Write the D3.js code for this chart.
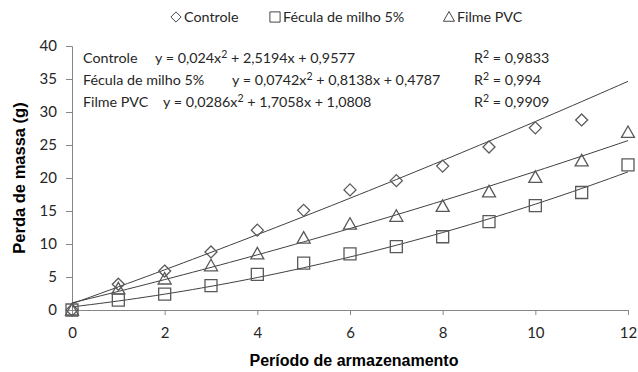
<!DOCTYPE html>
<html>
<head>
<meta charset="utf-8">
<script src="https://cdn.jsdelivr.net/npm/d3@7"></script>
<style>
  body{margin:0;background:#fff}
  svg text{font-family:Lato,"Open Sans",sans-serif}
</style>
</head>
<body>
<svg id="chart" width="638" height="372"></svg>
<script>
// dias de armazenamento
const dias=[0,1,2,3,4,5,6,7,8,9,10,11,12]
const controle=[0,3.9,5.9,8.8,12.1,15.1,18.2,19.6,21.8,24.7,27.6,28.8,null]
const fecula=[0,1.5,2.4,3.7,5.4,7.1,8.5,9.6,11.1,13.4,15.8,17.8,22.0]
const pvc=[0,3.2,4.7,6.7,8.5,10.9,13.0,14.2,15.7,17.9,20.1,22.6,26.9]
// coeficientes das linhas de tendencia (a x2 + b x + c)
const coefControle=[0.024,2.5194,0.9577]
const coefFecula=[0.0742,0.8138,0.4787]
const coefPvc=[0.0286,1.7058,1.0808]
const xTicks=[0,2,4,6,8,10,12]
const yTicks=[0,5,10,15,20,25,30,35,40]
const eqNames=["Controle","Fécula de milho 5%","Filme PVC"]
// partes da equacao: [antes do expoente, depois do expoente]
const eqTexts=[["y = 0,024x","+ 2,5194x + 0,9577"],["y = 0,0742x","+ 0,8138x + 0,4787"],["y = 0,0286x","+ 1,7058x + 1,0808"]]
const r2Texts=["0,9833","0,994","0,9909"]

const svg=d3.select("#chart")
const x=d3.scaleLinear().domain([0,12]).range([72,628])
const y=d3.scaleLinear().domain([0,40]).range([310,46])
const axisCol="#868686", markCol="#595959", lineCol="#404040", txtCol="#262626"
const fs="14.3px"

// eixo y
const gy=svg.append("g").attr("transform","translate(72,0)")
  .call(d3.axisLeft(y).tickValues(yTicks).tickSize(6).tickPadding(9))
gy.select(".domain").attr("stroke",axisCol)
gy.selectAll(".tick line").attr("stroke",axisCol)
gy.selectAll(".tick text").attr("fill",txtCol).style("font-size","15px").style("font-family","Lato")

// eixo x
const gx=svg.append("g").attr("transform","translate(0,310)")
  .call(d3.axisBottom(x).tickValues(xTicks).tickSize(5).tickPadding(12))
gx.select(".domain").attr("stroke",axisCol)
gx.selectAll(".tick line").attr("stroke",axisCol)
gx.selectAll(".tick text").attr("fill",txtCol).style("font-size","15px").style("font-family","Lato")

// titulos dos eixos
svg.append("text").attr("x",354).attr("y",366).attr("text-anchor","middle")
  .style("font-family","Liberation Sans, Arial").style("font-weight","bold").style("font-size","16px")
  .text("Período de armazenamento")
svg.append("text").attr("transform","translate(25,178) rotate(-90)").attr("text-anchor","middle")
  .style("font-family","Liberation Sans, Arial").style("font-weight","bold").style("font-size","16.5px")
  .text("Perda de massa (g)")

// linhas de tendencia
const xs=d3.range(0,12.001,0.2)
const line=d3.line().x(d=>x(d[0])).y(d=>y(d[1]))
;[coefControle,coefFecula,coefPvc].forEach(c=>{
  svg.append("path").datum(xs.map(v=>[v,c[0]*v*v+c[1]*v+c[2]]))
    .attr("d",line).attr("fill","none").attr("stroke",lineCol).attr("stroke-width",1)
})

// marcadores
const shapes={
  diamond:"M0,-6L6,0L0,6L-6,0Z",
  square:"M-6,-6H6V6H-6Z",
  triangle:"M0,-6.5L6.5,5L-6.5,5Z"
}
const series=[[controle,"diamond"],[fecula,"square"],[pvc,"triangle"]]
series.forEach(([vals,sh])=>{
  svg.append("g").selectAll("path").data(dias.map((d,i)=>[d,vals[i]]).filter(d=>d[1]!=null))
    .join("path").attr("d",shapes[sh])
    .attr("transform",d=>`translate(${x(d[0])},${y(d[1])})`)
    .attr("fill","none").attr("stroke",markCol).attr("stroke-width",1.3)
})

// legenda
const leg=[["diamond","Controle",176],["square","Fécula de milho 5%",275],["triangle","Filme PVC",449]]
leg.forEach(([sh,t,px])=>{
  svg.append("path").attr("d",shapes[sh]).attr("transform",`translate(${px},17) scale(0.85)`)
    .attr("fill","none").attr("stroke",txtCol).attr("stroke-width",1)
  svg.append("text").attr("x",px+8).attr("y",22).attr("fill",txtCol).style("font-size",fs).text(t)
})

// equacoes
const eqX=[155,232,163]
eqNames.forEach((n,i)=>{
  const yy=63+i*22
  svg.append("text").attr("x",83).attr("y",yy).attr("fill",txtCol).style("font-size",fs).text(n)
  const t=svg.append("text").attr("x",eqX[i]).attr("y",yy).attr("fill",txtCol).style("font-size",fs)
  t.append("tspan").text(eqTexts[i][0])
  t.append("tspan").attr("dy",-5).style("font-size","10.5px").text("2")
  t.append("tspan").attr("dy",5).text(" "+eqTexts[i][1])
  const r=svg.append("text").attr("x",474).attr("y",yy).attr("fill",txtCol).style("font-size",fs)
  r.append("tspan").text("R")
  r.append("tspan").attr("dy",-5).style("font-size","10.5px").text("2")
  r.append("tspan").attr("dy",5).text(" = "+r2Texts[i])
})
</script>
</body>
</html>
